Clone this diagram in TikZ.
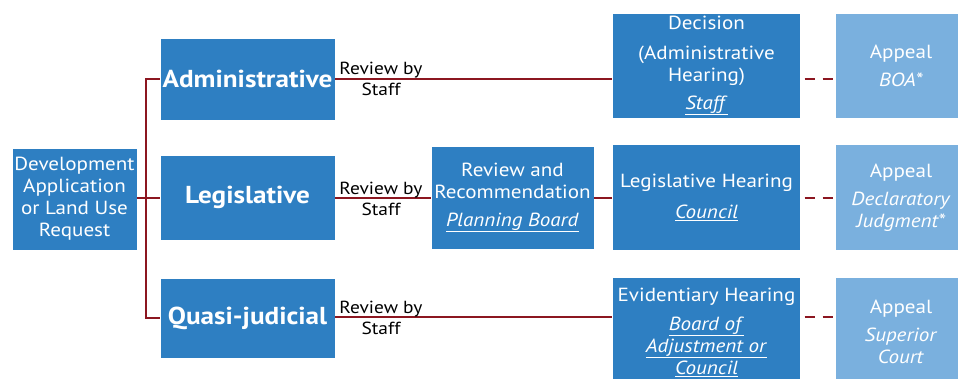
\documentclass[tikz,border=0pt]{standalone}
\usepackage{fontspec}
\setmainfont[FakeStretch=1.11]{PT Sans}
\definecolor{boxblue}{RGB}{46,127,194}
\definecolor{paleblue}{RGB}{122,176,222}
\definecolor{linkred}{RGB}{140,22,32}
\tikzset{
  box/.style={fill=boxblue, draw=white, line width=0.4pt, text=white, align=center,
    inner sep=0pt, font=\fontsize{19}{22}\selectfont},
  kind/.style={box, font=\bfseries\fontsize{24.5}{28}\selectfont},
  appealbox/.style={box, fill=paleblue},
  lbl/.style={align=center, inner sep=0pt, font=\fontsize{17.5}{21}\selectfont},
  link/.style={draw=linkred, line width=2pt},
  dlink/.style={link, dash pattern=on 10pt off 8pt, dash phase=14pt},
}
\newcommand{\who}[1]{\underline{\textit{#1}}}
\begin{document}
\begin{tikzpicture}[x=1pt, y=-1pt]
\useasboundingbox (0,0) rectangle (958,379);
\begin{scope}
\clip (0,0) rectangle (958,379);
% request and the three kinds of decision
\node[box, minimum width=125, minimum height=102] (dev) at (74.5,199)
  {Development\\Application\\or Land Use\\Request};
\node[kind, minimum width=175, minimum height=82] (adm) at (247.5,79) {Administrative};
\node[kind, minimum width=175, minimum height=85] (leg) at (247.5,197.5) {Legislative};
\node[kind, minimum width=175, minimum height=80] (qj) at (247.5,318) {Quasi-judicial};
% planning board step
\node[box, minimum width=163, minimum height=103] (rr) at (512.5,197.5)
  {Review and\\Recommendation\\[6pt]\who{Planning Board}};
% hearings
\node[box, minimum width=188, minimum height=105] (dec) at (706.5,65.5)
  {Decision\\[8pt](Administrative\\Hearing)\\[6pt]\who{Staff}};
\node[box, minimum width=188, minimum height=106] (lh) at (706.5,197.5)
  {Legislative Hearing\\[9pt]\who{Council}};
\node[box, minimum width=188, minimum height=110] (eh) at (706.5,332)
  {Evidentiary Hearing\\[7pt]\who{Board of}\\\who{Adjustment or}\\\who{Council}};
% appeals
\node[appealbox, minimum width=132, minimum height=105] (ap1) at (901,65.5)
  {Appeal\\[6pt]\textit{BOA*}};
\node[appealbox, minimum width=132, minimum height=106] (ap2) at (901,197.5)
  {Appeal\\[6pt]\textit{Declaratory}\\\textit{Judgment*}};
\node[appealbox, minimum width=132, minimum height=110] (ap3) at (901,332)
  {Appeal\\[6pt]\textit{Superior}\\\textit{Court}};
% branching bus
\coordinate (bus) at (146,198);
\draw[link] (dev.east |- bus) -- (bus);
\draw[link] (adm.west) -| (bus) |- (qj.west);
\draw[link] (bus) -- (leg.west |- bus);
% staff review connectors
\coordinate (r1) at (adm.east);
\coordinate (r2) at (335,198);
\coordinate (r3) at (335,317);
\draw[link] (r1) -- (r1 -| dec.west);
\draw[link] (r2) -- (r2 -| rr.west);
\draw[link] (rr.east |- r2) -- (r2 -| lh.west);
\draw[link] (r3) -- (r3 -| eh.west);
\node[lbl] (s1) at (381,78.5) {Review by\\Staff};
\node[lbl] (s2) at (381,198.5) {Review by\\Staff};
\node[lbl] (s3) at (381,317.5) {Review by\\Staff};
% appeal connectors
\draw[dlink] (dec.east |- r1) -- (r1 -| ap1.west);
\draw[dlink] (lh.east |- r2) -- (r2 -| ap2.west);
\draw[dlink] (eh.east |- r3) -- (r3 -| ap3.west);
\end{scope}
\end{tikzpicture}
\end{document}
